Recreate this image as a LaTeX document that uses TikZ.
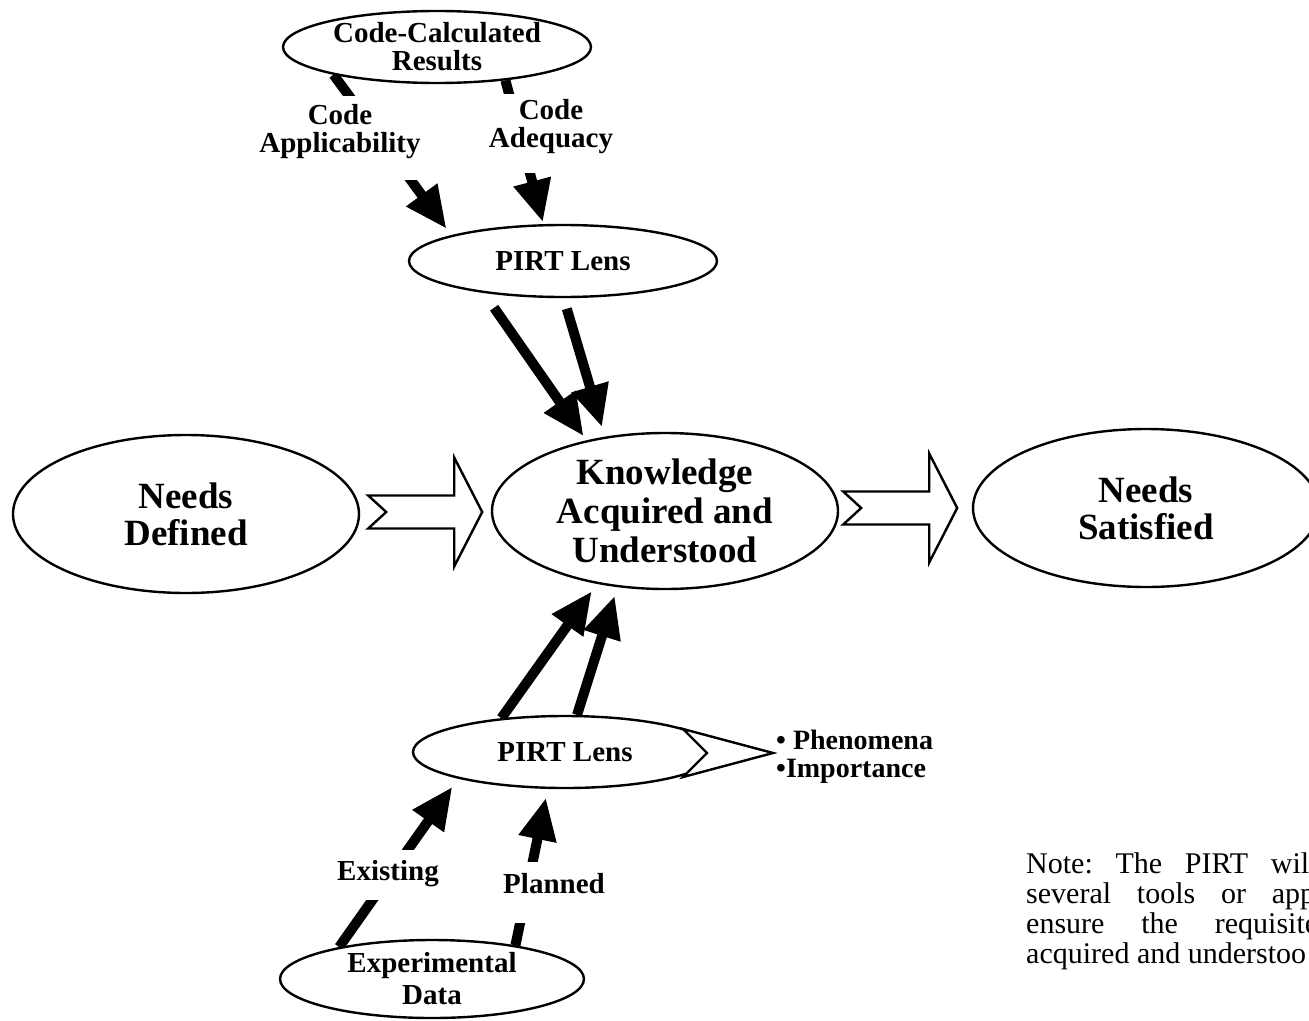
\documentclass[tikz,border=0pt]{standalone}
\usepackage{fontspec}
\setmainfont{Liberation Serif}
\usetikzlibrary{arrows.meta,shapes.geometric,calc}
\pgfdeclarelayer{bg}
\pgfsetlayers{bg,main}
\tikzset{
  oval/.style={ellipse, draw, fill=white, line width=2.4pt, inner sep=0pt, align=center,
    font=\bfseries\fontsize{29}{28}\selectfont},
  bigoval/.style={oval, minimum width=346pt, minimum height=158pt,
    font=\bfseries\fontsize{37}{37}\selectfont},
  bigarrow/.style={line width=10pt, -{Triangle[length=42pt,width=36pt]}},
  lbl/.style={align=center, font=\bfseries\fontsize{29}{28}\selectfont, inner sep=0pt},
  gapbox/.style={fill=white, draw=none},
  hollow/.style={draw, line width=2.4pt, fill=white, line join=miter},
  notefont/.style={font=\frenchspacing\fontsize{30}{30}\selectfont, inner sep=0pt, anchor=base west},
  hollowarrow/.pic={\draw[hollow] (0,-16.5) -- ++(86,0) -- ++(0,-38) -- ++(28,54.5)
     -- ++(-28,54.5) -- ++(0,-38) -- ++(-86,0) -- ++(18,-16.5) -- cycle;}
}
\begin{document}
\begin{tikzpicture}[x=1pt,y=-1pt]
\path[use as bounding box, clip] (0,0) rectangle (1309,1020);
\begin{pgfonlayer}{bg}
\fill[white] (0,0) rectangle (1309,1020);
\end{pgfonlayer}

% ellipses
\node[oval, minimum width=308pt, minimum height=72pt] (ccr) at (437,47) {Code-Calculated\\Results};
\node[oval, minimum width=308pt, minimum height=72pt] (lens1) at (563,261) {PIRT Lens};
\node[bigoval] (nd) at (186,514) {Needs\\Defined};
\node[bigoval, minimum height=156pt, font=\bfseries\fontsize{37}{39}\selectfont] (know) at (665,511) {Knowledge\\Acquired and\\Understood};
\node[bigoval] (ns) at (1146,508) {Needs\\Satisfied};
\node[oval, minimum width=304pt, minimum height=72pt] (lens2) at (565,752) {PIRT Lens};
\node[oval, minimum width=304pt, minimum height=78pt, font=\bfseries\fontsize{29}{32}\selectfont] (exp) at (432,979) {Experimental\\Data};

% labels
\node[lbl] (capp) at (340,132) {Code\\Applicability};
\node[lbl] (cadq) at (551,127) {Code\\Adequacy};
\node[lbl] (exist) at (388,874) {Existing};
\node[lbl] (plan) at (554,884) {Planned};
\node[lbl, font=\bfseries\fontsize{28}{28}\selectfont, align=left, anchor=west] (pi) at (776,757) {• Phenomena\\•Importance};

% note
\node[notefont] (n1) at (1026,873) {\makebox[283pt][s]{Note: The PIRT wil}};
\node[notefont] (n2) at (1026,903) {\makebox[289pt][s]{several tools or app}};
\node[notefont] (n3) at (1026,933) {\makebox[292pt][s]{ensure the requisite}};
\node[notefont] (n4) at (1026,963) {acquired and understoo};

% thick arrows with gaps
\begin{pgfonlayer}{bg}
\draw[bigarrow, shorten <=18pt, shorten >=5pt] (lens1.202) -- (know.138);
\draw[bigarrow, shorten <=11pt, shorten >=10pt] (lens1.271) -- (know.129);
\draw[bigarrow, shorten >=9pt] (lens2.152) -- (know.227);
\draw[bigarrow, shorten >=9pt] (lens2.72) -- (know.238);
\draw[bigarrow, shorten >=8pt] (ccr.195) -- (lens1.167);
\draw[bigarrow, shorten >=2pt] (ccr.334) -- (lens1.118);
\draw[bigarrow, shorten >=10pt] (exp.161) -- (lens2.194);
\draw[bigarrow, shorten >=9pt] (exp.22) -- (lens2.245);
\fill[gapbox] ([shift={(-6,-9)}]capp.north west) rectangle ([shift={(6,21)}]capp.south east);
\fill[gapbox] ([shift={(-6,-6)}]cadq.north west) rectangle ([shift={(6,19)}]cadq.south east);
\fill[gapbox] ([shift={(-6,-11)}]exist.north west) rectangle ([shift={(6,13)}]exist.south east);
\fill[gapbox] ([shift={(-6,-12)}]plan.north west) rectangle ([shift={(6,29)}]plan.south east);
\end{pgfonlayer}

% hollow arrows
\pic at ([xshift=8pt,yshift=2pt]nd.east) {hollowarrow};
\pic at ([xshift=4pt,yshift=3pt]know.east) {hollowarrow};
\draw[hollow] ($(lens2.center)+(118,-23)$) -- ($(lens2.center)+(208,1)$)
  -- ($(lens2.center)+(118,25)$) -- ($(lens2.center)+(142,1)$) -- cycle;
\end{tikzpicture}
\end{document}
